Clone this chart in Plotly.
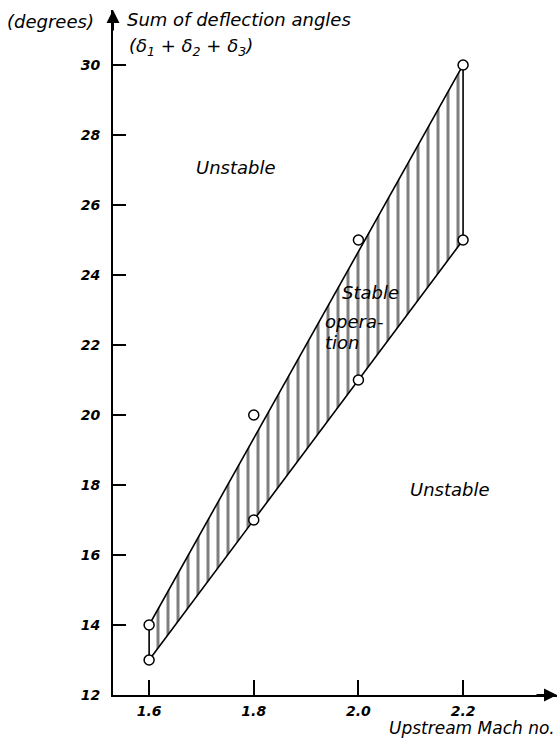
import plotly.graph_objects as go

# Data
mach = [1.6, 1.8, 2.0, 2.2]
upper_limit = [14, 20, 25, 30]   # upper stability boundary points (degrees)
lower_limit = [13, 17, 21, 25]   # lower stability boundary points (degrees)
x_ticks = [1.6, 1.8, 2.0, 2.2]
x_tick_labels = ["1.6", "1.8", "2.0", "2.2"]
y_ticks = [12, 14, 16, 18, 20, 22, 24, 26, 28, 30]

FONT = "DejaVu Sans"

fig = go.Figure()

# Stable region polygon (straight upper line between end points, lower line through points)
poly_x = [mach[0], mach[-1], mach[-1], mach[0], mach[0]]
poly_y = [lower_limit[0], lower_limit[-1], upper_limit[-1], upper_limit[0], lower_limit[0]]
fig.add_trace(go.Scatter(
    x=poly_x, y=poly_y, mode="lines", fill="toself",
    fillcolor="rgba(0,0,0,0)",
    fillpattern=dict(shape="|", size=10, solidity=0.3, fgcolor="black", bgcolor="white"),
    line=dict(color="black", width=1.6),
    hoverinfo="skip", showlegend=False,
))

# Measured points (open circles)
fig.add_trace(go.Scatter(
    x=mach + mach, y=upper_limit + lower_limit, mode="markers",
    marker=dict(symbol="circle", size=10, color="white", line=dict(color="black", width=1.5)),
    showlegend=False,
))

fig.update_layout(
    width=558, height=740,
    margin=dict(l=113, r=1, t=10, b=45),
    paper_bgcolor="white", plot_bgcolor="white",
    font=dict(family=FONT, color="black"),
    xaxis=dict(
        range=[1.531, 2.3795], showgrid=False, zeroline=False,
        showline=True, linecolor="black", linewidth=2,
        tickmode="array", tickvals=x_ticks, ticktext=x_tick_labels,
        ticks="inside", ticklen=15, tickwidth=2, tickcolor="black",
        tickfont=dict(family=FONT, size=14, style="italic", weight="bold"),
        ticklabelstandoff=2,
    ),
    yaxis=dict(
        range=[12, 31.57], showgrid=False, zeroline=False,
        showline=True, linecolor="black", linewidth=2,
        tickmode="array", tickvals=y_ticks,
        ticks="inside", ticklen=13, tickwidth=1.5, tickcolor="black",
        tickfont=dict(family=FONT, size=14, style="italic", weight="bold"),
        ticklabelstandoff=8,
    ),
)

ann_font = dict(family=FONT, size=18, color="black", style="italic")
title_font = dict(family=FONT, size=18, color="black", style="italic")

# Axis arrowheads
fig.add_annotation(x=2.3795, y=12, xref="x", yref="y", ax=-22, ay=0,
                   showarrow=True, arrowhead=2, arrowsize=1.3, arrowwidth=2, arrowcolor="black", text="")
fig.add_annotation(x=1.531, y=31.57, xref="x", yref="y", ax=0, ay=22,
                   showarrow=True, arrowhead=2, arrowsize=1.3, arrowwidth=2, arrowcolor="black", text="")

# Region labels
fig.add_annotation(x=1.766, y=27.06, text="Unstable", showarrow=False, font=ann_font)
fig.add_annotation(x=2.175, y=17.86, text="Unstable", showarrow=False, font=ann_font)
fig.add_annotation(x=1.965, y=23.51, text="Stable", showarrow=False, font=ann_font, xanchor="left")
fig.add_annotation(x=1.933, y=22.66, text="opera-", showarrow=False, font=ann_font, xanchor="left")
fig.add_annotation(x=1.933, y=22.06, text="tion", showarrow=False, font=ann_font, xanchor="left")

# Axis titles
fig.add_annotation(xref="paper", yref="paper", x=-0.243, y=0.9825, text="(degrees)",
                   showarrow=False, font=title_font, xanchor="left", yanchor="middle")
fig.add_annotation(xref="paper", yref="paper", x=0.027, y=0.9865, text="Sum of deflection angles",
                   showarrow=False, font=title_font, xanchor="left", yanchor="middle")
fig.add_annotation(xref="paper", yref="paper", x=0.0315, y=0.946,
                   text="(δ<sub>1</sub> + δ<sub>2</sub> + δ<sub>3</sub>)",
                   showarrow=False, font=title_font, xanchor="left", yanchor="middle")
fig.add_annotation(xref="paper", yref="paper", x=1.0, y=-0.048, text="Upstream Mach no.",
                   showarrow=False, font=dict(family=FONT, size=17, color="black", style="italic"),
                   xanchor="right", yanchor="middle")

fig.write_html("out.html", config={"displayModeBar": False},
               post_script="document.body.style.margin='0';")
